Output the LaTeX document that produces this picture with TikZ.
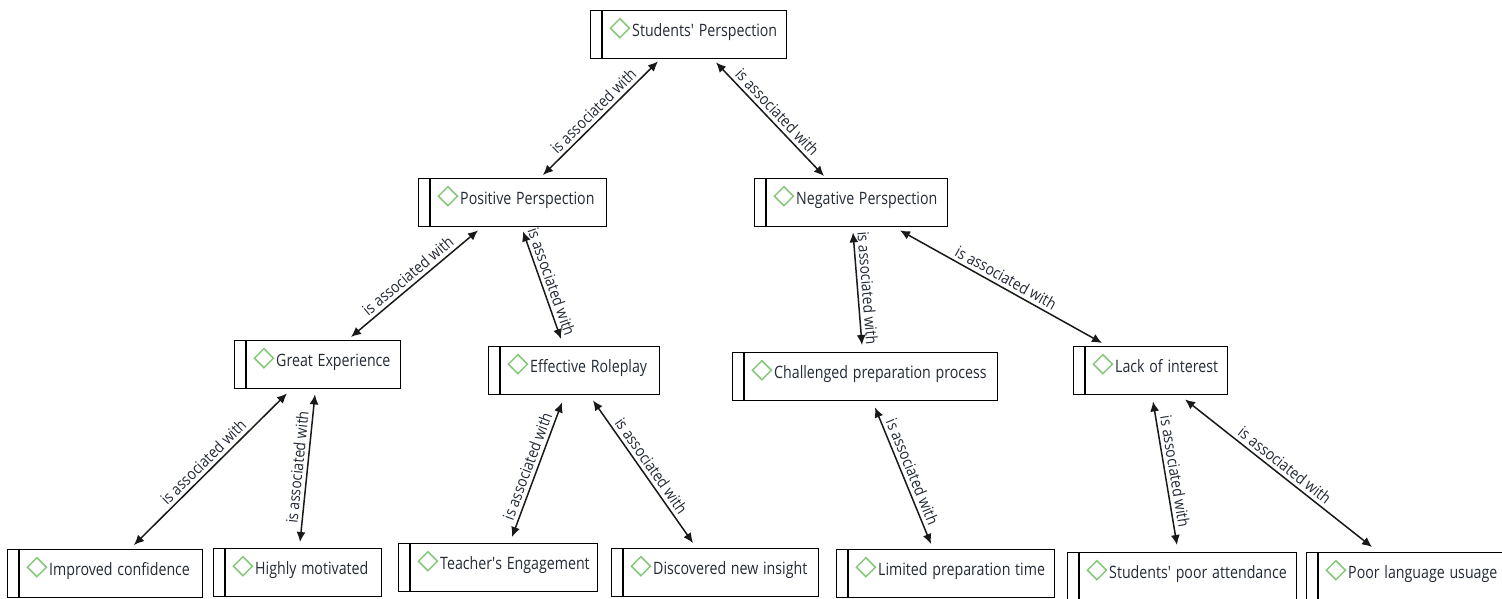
\documentclass[tikz,border=0pt]{standalone}
\usepackage{fontspec}
\usepackage{graphicx}
\setmainfont{Open Sans}
\usetikzlibrary{arrows.meta}

\definecolor{icongreen}{HTML}{86C87A}
\definecolor{codetext}{HTML}{232A36}

\newcommand{\codeicon}{\tikz[baseline=0pt]\draw[icongreen, line width=1.5pt] (0pt,8.5pt) -- (9.5pt,18pt) -- (19pt,8.5pt) -- (9.5pt,-1pt) -- cycle;}
\newcommand{\codename}[1]{\hspace*{19pt}\codeicon\hspace{2pt}\scalebox{1}[1.2]{#1}}
\newcommand{\relname}{\scalebox{1}[1.15]{is associated with}}

\tikzset{
    code/.style={draw, line width=1.4pt, rectangle, anchor=north west, inner sep=0pt, align=left,
        text width=#1, text height=26pt, text depth=22pt, text=codetext, fill=white,
        font=\fontsize{14.2}{16}\selectfont},
    link/.style={<->, >={Latex[length=10pt,width=9pt]}, line width=1.5pt, black!90},
    rel/.style={midway, sloped, above, inner sep=3.5pt, text=codetext,
        font=\fontsize{13.8}{15}\selectfont},
}

\begin{document}
\begin{tikzpicture}[x=1pt, y=-1pt]
        \useasboundingbox (0,0) rectangle (1502,599);
        \fill[white] (0,0) rectangle (1502,599);

        \node[code=196pt] (sp) at (590,10) {\codename{Students\textquotesingle{} Perspection}};
        \node[code=188pt] (pp) at (418,178) {\codename{Positive Perspection}};
        \node[code=193pt] (np) at (754,178) {\codename{Negative Perspection}};
        \node[code=166pt] (ge) at (234,340) {\codename{Great Experience}};
        \node[code=171pt] (er) at (488,346) {\codename{Effective Roleplay}};
        \node[code=265pt] (cp) at (732,352) {\codename{Challenged preparation process}};
        \node[code=154pt] (li) at (1073,346) {\codename{Lack of interest}};
        \node[code=195pt] (ic) at (7,549) {\codename{Improved confidence}};
        \node[code=168pt] (hm) at (213,548) {\codename{Highly motivated}};
        \node[code=199pt] (te) at (398,543) {\codename{Teacher\textquotesingle{}s Engagement}};
        \node[code=207pt] (dn) at (611,548) {\codename{Discovered new insight}};
        \node[code=218pt] (lp) at (836,549) {\codename{Limited preparation time}};
        \node[code=229pt] (spa) at (1067,552) {\codename{Students\textquotesingle{} poor attendance}};
        \node[code=204pt] (pl) at (1306,552) {\codename{Poor language usuage}};

        % inner bar of each code box
        \foreach \n in {sp,pp,np,ge,er,cp,li,ic,hm,te,dn,lp,spa,pl}
            \draw[line width=1.4pt] ([xshift=12pt]\n.north west) -- ([xshift=12pt]\n.south west);

        \draw[link] ([shift={(125,-3)}]pp.north west) -- node[rel] {\relname} ([shift={(68,2)}]sp.south west);
        \draw[link] ([shift={(126,3)}]sp.south west) -- node[rel] {\relname} ([shift={(70,-2)}]np.north west);
        \draw[link] ([shift={(117,-3)}]ge.north west) -- node[rel] {\relname} ([shift={(60,3)}]pp.south west);
        \draw[link] ([shift={(105,4)}]pp.south west) -- node[rel] {\relname} ([shift={(73,-7)}]er.north west);
        \draw[link] ([shift={(99,5)}]np.south west) -- node[rel] {\relname} ([shift={(130,-7)}]cp.north west);
        \draw[link] ([shift={(146,3)}]np.south west) -- node[rel] {\relname} ([shift={(29,-3)}]li.north west);
        \draw[link] ([shift={(127,-4)}]ic.north west) -- node[rel] {\relname} ([shift={(53,4)}]ge.south west);
        \draw[link] ([shift={(87,-6)}]hm.north west) -- node[rel] {\relname} ([shift={(81,5)}]ge.south west);
        \draw[link] ([shift={(114,-6)}]te.north west) -- node[rel] {\relname} ([shift={(74,7)}]er.south west);
        \draw[link] ([shift={(105,5)}]er.south west) -- node[rel] {\relname} ([shift={(82,-5)}]dn.north west);
        \draw[link] ([shift={(143,6)}]cp.south west) -- node[rel] {\relname} ([shift={(95,-5)}]lp.north west);
        \draw[link] ([shift={(80,6)}]li.south west) -- node[rel] {\relname} ([shift={(110,-7)}]spa.north west);
        \draw[link] ([shift={(112,4)}]li.south west) -- node[rel] {\relname} ([shift={(66,-5)}]pl.north west);
    \end{tikzpicture}
\end{document}
